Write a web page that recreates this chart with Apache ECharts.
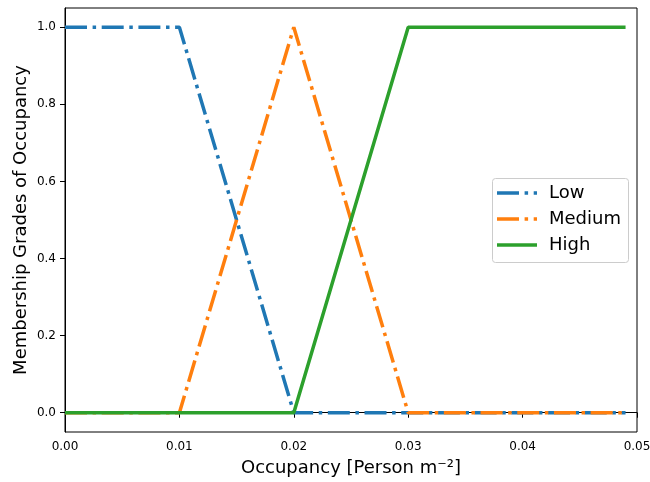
<!DOCTYPE html>
<html><head><meta charset="utf-8">
<script src="https://cdn.jsdelivr.net/npm/echarts@6/dist/echarts.min.js"></script>
<style>html,body{margin:0;padding:0;background:#fff}#c{width:650px;height:482px}</style>
</head><body><div id="c"></div>
<script>
// Breakpoints of the membership functions (x in Person m^-2)
const xLow = [0, 0.01, 0.02, 0.03, 0.049];
const yLow = [1, 1, 0, 0, 0];
const xMedium = [0, 0.01, 0.02, 0.03, 0.049];
const yMedium = [0, 0, 1, 0, 0];
const xHigh = [0, 0.01, 0.02, 0.03, 0.049];
const yHigh = [0, 0, 0, 1, 1];
const xTicks = [0, 0.01, 0.02, 0.03, 0.04, 0.05];
const yTicks = [0, 0.2, 0.4, 0.6, 0.8, 1.0];
const seriesNames = ['Low', 'Medium', 'High'];
const seriesColors = ['#1f77b4', '#ff7f0e', '#2ca02c'];

const zip = (xs, ys) => xs.map((x, i) => [x, ys[i]]);
const F = 'DejaVu Sans';
const lw = 3.5;
const dashdot = [22, 5.6, 3.5, 5.6];
const dashes = [dashdot, dashdot, null];

// legend drawn as graphic (box + line samples + labels)
const legendGraphic = [{
  type: 'rect', left: 492, top: 178, z: 100,
  shape: {width: 136, height: 84, r: 3},
  style: {fill: 'rgba(255,255,255,0.8)', stroke: '#ccc', lineWidth: 1}
}];
seriesNames.forEach((n, i) => {
  const y = 193 + i * 26;
  legendGraphic.push({
    type: 'line', z: 101,
    shape: {x1: 497, y1: y, x2: 537, y2: y},
    style: {stroke: seriesColors[i], lineWidth: lw, lineDash: dashes[i] || null, lineCap: 'butt'}
  });
  legendGraphic.push({
    type: 'text', z: 101, x: 549, y: y,
    style: {text: n, font: '18px "DejaVu Sans"', fill: '#000', textVerticalAlign: 'middle', verticalAlign: 'middle'}
  });
});

const chart = echarts.init(document.getElementById('c'), null, {renderer: 'canvas'});
chart.setOption({
  animation: false,
  backgroundColor: '#fff',
  grid: {left: 65, right: 13, top: 8, bottom: 50, show: true, borderColor: '#000', borderWidth: 1,
         backgroundColor: 'transparent', outerBoundsMode: 'none', containLabel: false},
  xAxis: {
    type: 'value', min: 0, max: 0.05, interval: 0.01,
    name: 'Occupancy [Person m⁻²]', nameLocation: 'middle', nameGap: 27, nameMoveOverlap: false,
    nameTextStyle: {fontFamily: F, fontSize: 18, color: '#000'},
    axisLine: {show: true, lineStyle: {color: '#000', width: 1}},
    axisTick: {show: true, length: 5, lineStyle: {color: '#000'}},
    axisLabel: {fontFamily: F, fontSize: 12, color: '#000', margin: 9, formatter: v => v.toFixed(2)},
    splitLine: {show: false}
  },
  yAxis: {
    type: 'value', min: -0.05, max: 1.05,
    name: 'Membership Grades of Occupancy', nameLocation: 'middle', nameGap: 35, nameMoveOverlap: false,
    nameTextStyle: {fontFamily: F, fontSize: 18, color: '#000'},
    axisLine: {show: true, lineStyle: {color: '#000', width: 1}},
    axisTick: {show: true, length: 5, customValues: yTicks, lineStyle: {color: '#000'}},
    axisLabel: {fontFamily: F, fontSize: 12, color: '#000', margin: 9, customValues: yTicks, formatter: v => v.toFixed(1)},
    splitLine: {show: false}
  },
  graphic: legendGraphic,
  series: seriesNames.map((n, i) => ({
    name: n, type: 'line', symbol: 'none', color: seriesColors[i],
    data: [zip(xLow, yLow), zip(xMedium, yMedium), zip(xHigh, yHigh)][i],
    lineStyle: {width: lw, type: dashes[i] || 'solid', color: seriesColors[i], cap: 'butt'},
    z: 2 + i
  }))
});
</script></body></html>
